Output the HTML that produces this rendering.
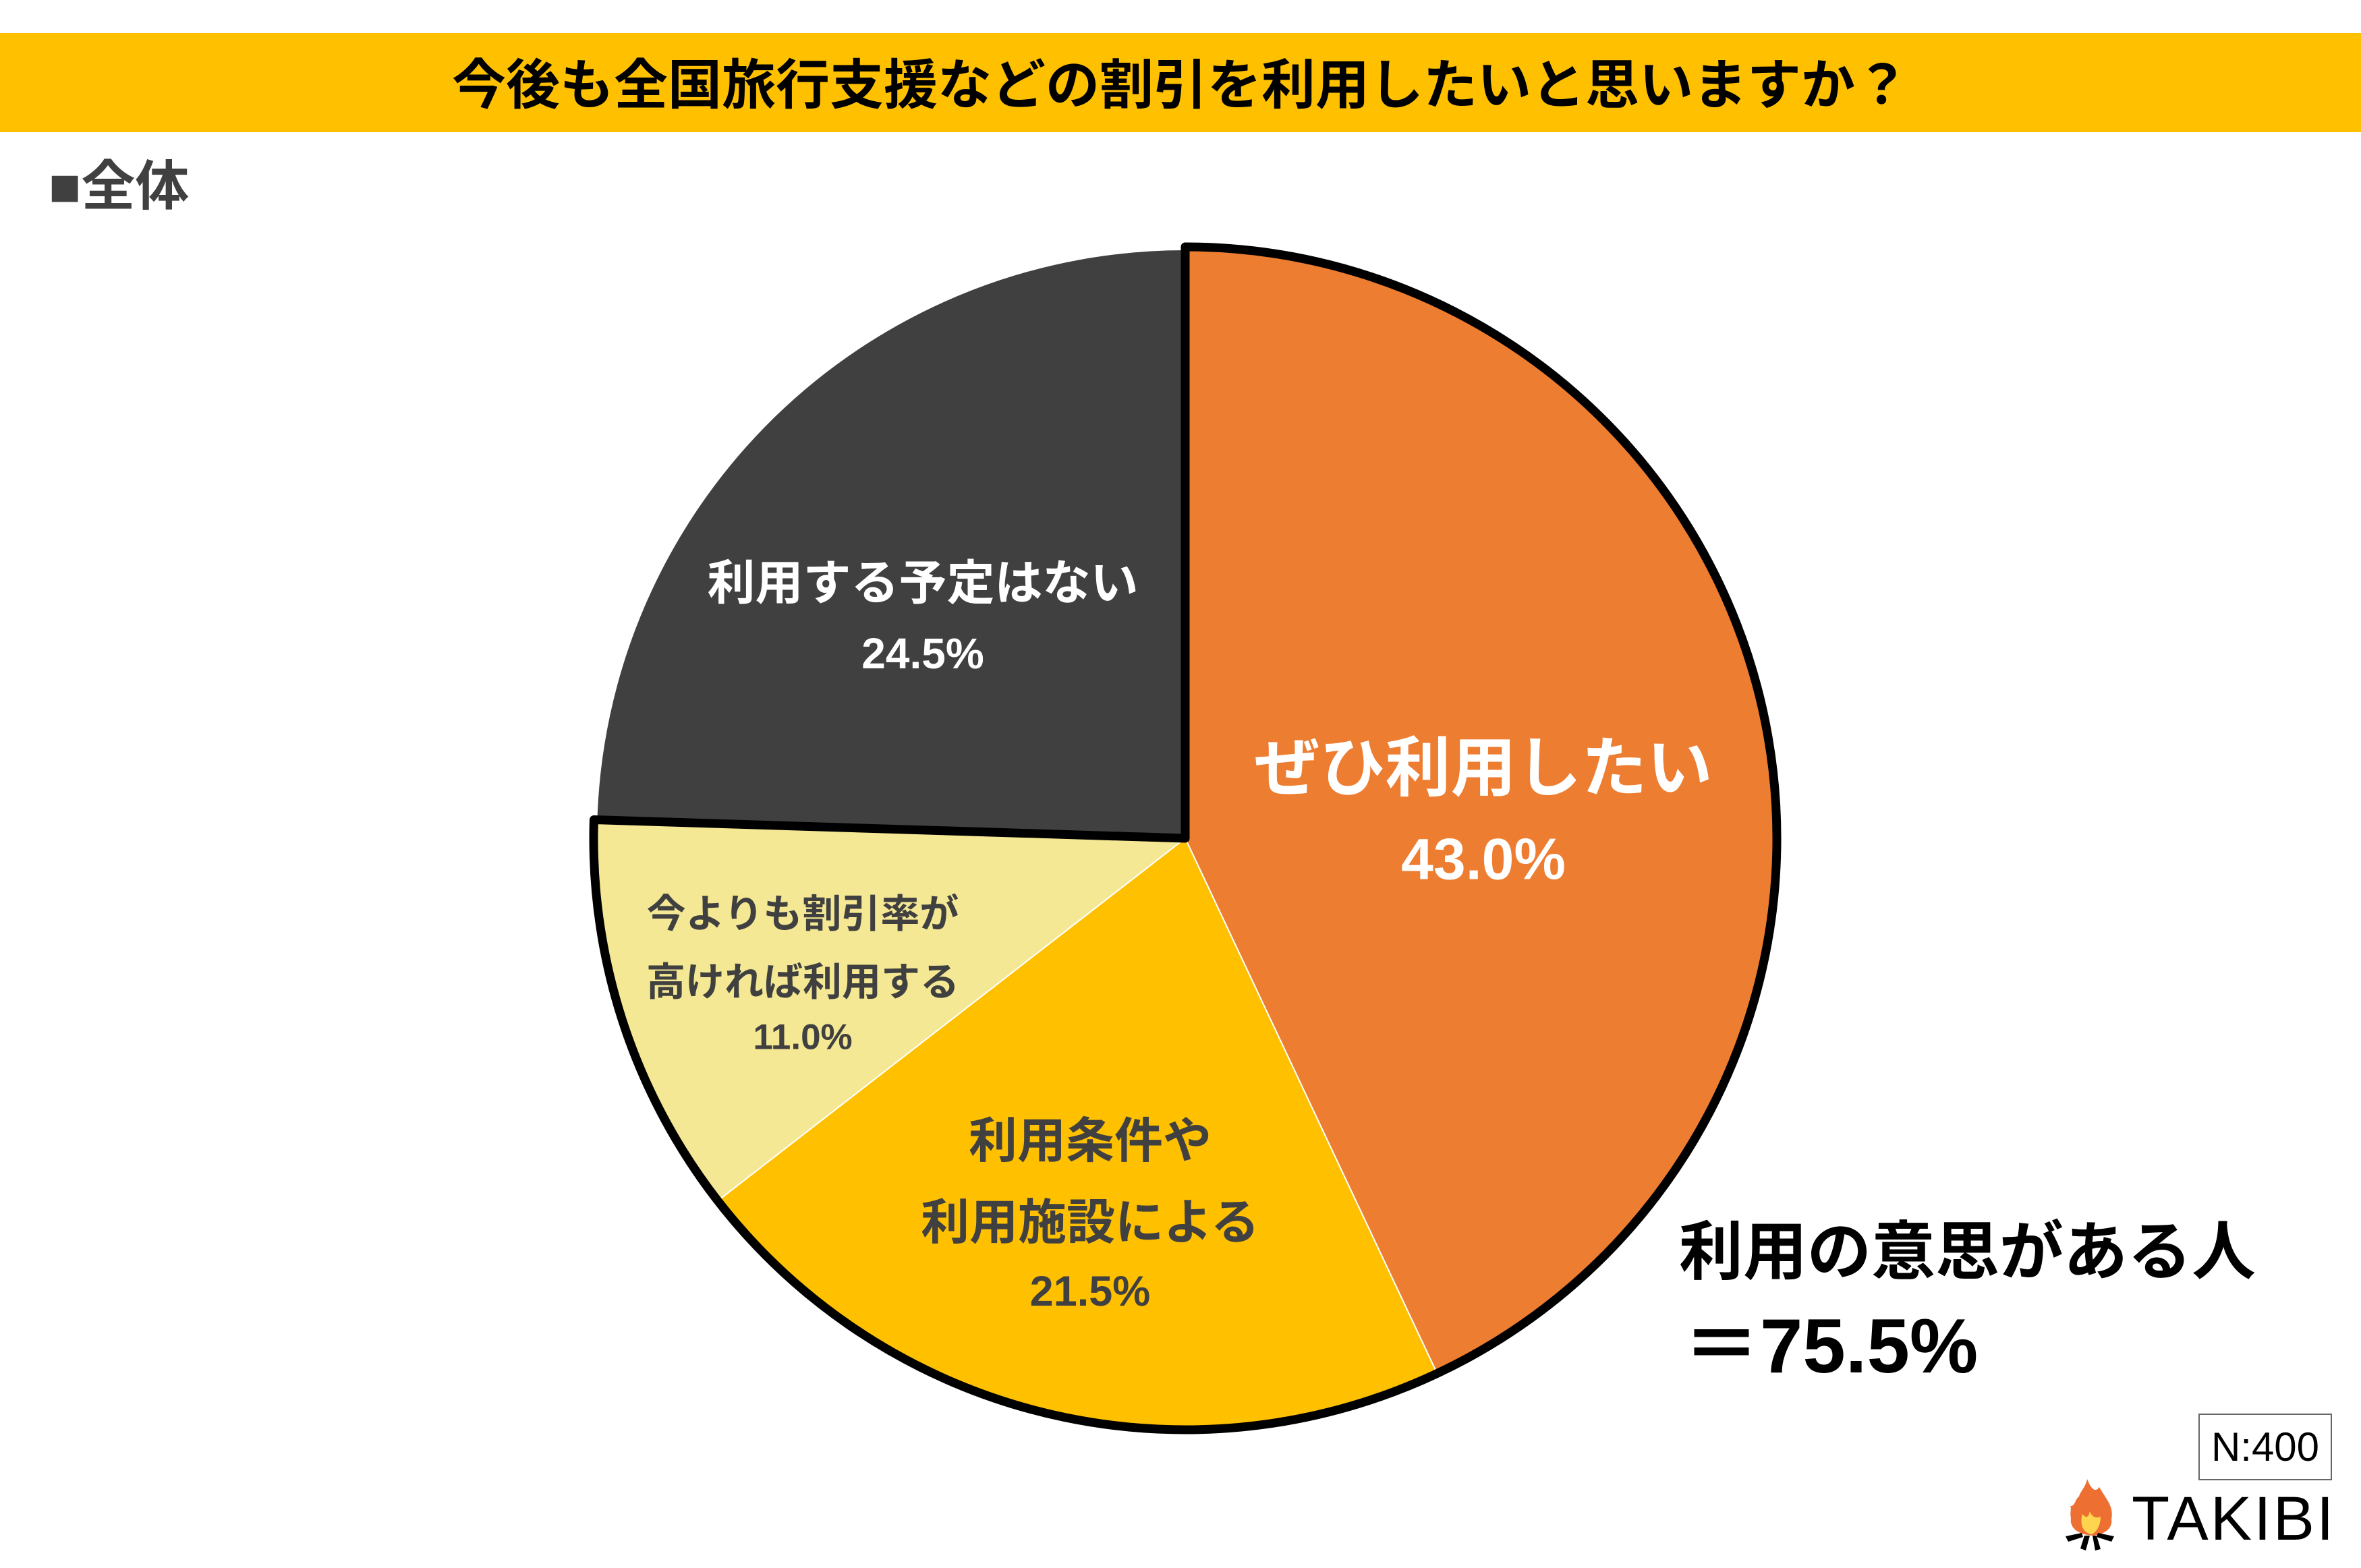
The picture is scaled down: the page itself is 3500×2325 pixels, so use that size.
<!DOCTYPE html>
<html><head><meta charset="utf-8">
<style>
body{margin:0;width:3500px;height:2325px;background:#fff;position:relative;overflow:hidden;font-family:"Liberation Sans","Noto Sans CJK JP",sans-serif;}
.t{position:absolute;font-weight:bold;white-space:nowrap;transform:translate(-50%,-50%);}
</style></head><body>
<div style="position:absolute;left:0;top:49px;width:3500px;height:147px;background:#ffc000;"></div>
<div class="t" style="left:1750px;top:120px;font-size:80px;color:#000;">今後も全国旅行支援などの割引を利用したいと思いますか？</div>
<div style="position:absolute;left:72px;top:212px;font-size:80px;font-weight:bold;color:#404040;">■全体</div>
<svg id="pie" width="3500" height="2325" style="position:absolute;left:0;top:0"></svg>
<div class="t" style="left:2199px;top:1130px;font-size:97px;color:#fff;">ぜひ利用したい</div>
<div class="t" style="left:2199px;top:1275px;font-size:86px;color:#fff;">43.0%</div>
<div class="t" style="left:1368px;top:859px;font-size:71px;color:#fff;">利用する予定はない</div>
<div class="t" style="left:1368px;top:969px;font-size:64px;color:#fff;">24.5%</div>
<div class="t" style="left:1190px;top:1350px;font-size:58px;color:#404040;">今よりも割引率が</div>
<div class="t" style="left:1190px;top:1451px;font-size:58px;color:#404040;">高ければ利用する</div>
<div class="t" style="left:1190px;top:1538px;font-size:53px;color:#404040;">11.0%</div>
<div class="t" style="left:1616px;top:1685px;font-size:72px;color:#404040;">利用条件や</div>
<div class="t" style="left:1616px;top:1806px;font-size:72px;color:#404040;">利用施設による</div>
<div class="t" style="left:1616px;top:1915px;font-size:63px;color:#404040;">21.5%</div>
<div style="position:absolute;left:2489px;top:1780px;font-size:95px;font-weight:bold;color:#000;">利用の意思がある人</div>
<div style="position:absolute;left:2495px;top:1903px;font-size:114px;font-weight:bold;color:#000;">＝75.5%</div>
<div style="position:absolute;left:3259px;top:2096px;width:194px;height:95px;border:2px solid #666;font-size:60px;line-height:95px;text-align:center;color:#000;">N:400</div>
<svg width="80" height="110" style="position:absolute;left:3062px;top:2193px" viewBox="0 0 80 110">
<path d="M32 0 C40 20 46 18 50 12 C60 30 72 40 68 60 C70 70 62 82 40 84 C15 82 6 70 8 58 C6 48 10 42 6 40 C14 42 14 30 20 26 C22 18 30 12 32 0Z" fill="#ed7032"/>
<path d="M25 52 C30 58 34 58 36 48 C40 58 46 58 52 56 C52 68 46 80 38 82 C28 80 20 70 25 52Z" fill="#ffd54f"/>
<path d="M0 85 L24 80 L26 86 L4 93Z M72 85 L48 80 L46 86 L68 93Z M28 84 L36 84 L30 106 L22 103Z M40 84 L46 84 L52 104 L44 106Z" fill="#000"/>
</svg>
<div style="position:absolute;left:3160px;top:2200px;font-size:92px;letter-spacing:3px;color:#000;">TAKIBI</div>
<script>
const categories=["ぜひ利用したい","利用条件や利用施設による","今よりも割引率が高ければ利用する","利用する予定はない"];
const values=[43.0,21.5,11.0,24.5];
const colors=["#ed7d31","#ffc000","#f5e895","#404040"];
const outlined=[true,true,true,false];
const cx=1757,cy=1243,r=873;
const svg=document.getElementById('pie');
const NS="http://www.w3.org/2000/svg";
const total=values.reduce((a,b)=>a+b,0);
function pt(a,rr){return [cx+rr*Math.sin(a),cy-rr*Math.cos(a)];}
function wedge(a0,a1,rr){const p0=pt(a0,rr),p1=pt(a1,rr);const lg=(a1-a0)>Math.PI?1:0;
return `M${cx},${cy} L${p0[0]},${p0[1]} A${rr},${rr} 0 ${lg} 1 ${p1[0]},${p1[1]} Z`;}
let acc=0;let oStart=null,oEnd=null;
values.forEach((v,i)=>{
const a0=acc/total*2*Math.PI;acc+=v;const a1=acc/total*2*Math.PI;
const p=document.createElementNS(NS,'path');
p.setAttribute('d',wedge(a0,a1,r));
p.setAttribute('fill',colors[i]);p.setAttribute('stroke','#fff');p.setAttribute('stroke-width','2');


svg.appendChild(p);
if(outlined[i]){if(oStart===null)oStart=a0;oEnd=a1;}
});
const o=document.createElementNS(NS,'path');
o.setAttribute('d',wedge(oStart,oEnd,r+4));
o.setAttribute('fill','none');o.setAttribute('stroke','#000');o.setAttribute('stroke-width','13');o.setAttribute('stroke-linejoin','round');


svg.appendChild(o);
</script>
</body></html>
